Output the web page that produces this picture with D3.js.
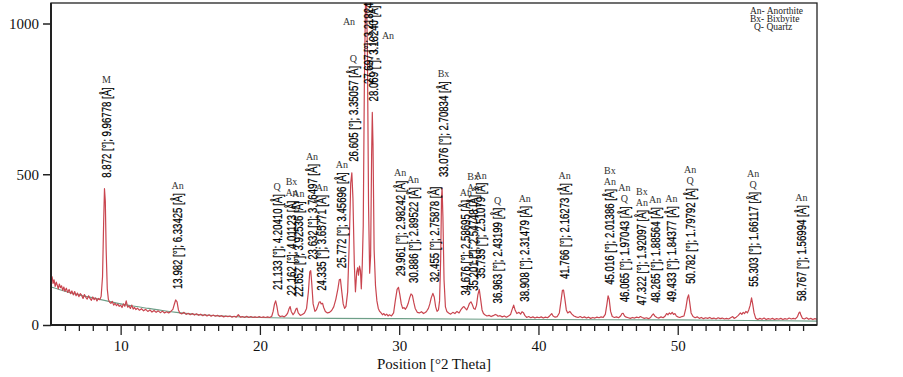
<!DOCTYPE html>
<html>
<head>
<meta charset="utf-8">
<script src="https://cdn.jsdelivr.net/npm/d3@7"></script>
<style>
body { margin: 0; background: #fff; }
svg { display: block; }
</style>
</head>
<body>
<svg id="chart" width="903" height="377"></svg>
<script>
// measured pattern, [2theta, counts]
const pattern = [
  [5.00,152],[5.08,160],[5.15,138],[5.22,150],[5.30,128],[5.38,142],[5.45,132],[5.52,120],[5.60,136],[5.68,124],
  [5.76,130],[5.84,115],[5.92,126],[6.00,112],[6.10,122],[6.20,108],[6.30,118],[6.40,104],[6.50,113],[6.60,100],
  [6.70,111],[6.80,97],[6.90,106],[7.00,94],[7.10,104],[7.20,99],[7.30,88],[7.40,101],[7.50,92],[7.60,86],
  [7.70,97],[7.80,88],[7.90,82],[8.00,93],[8.10,84],[8.20,90],[8.30,80],[8.40,88],[8.50,84],[8.60,95],
  [8.70,160],[8.78,340],[8.84,452],[8.90,410],[8.96,250],[9.04,120],[9.12,85],[9.20,76],[9.30,72],[9.40,78],
  [9.50,66],[9.60,72],[9.70,64],[9.80,69],[9.90,62],[10.00,66],[10.10,58],[10.20,70],[10.30,62],[10.40,80],
  [10.50,59],[10.60,63],[10.70,55],[10.80,66],[10.90,53],[11.00,58],[11.10,51],[11.20,56],[11.35,49],[11.50,54],
  [11.65,47],[11.80,52],[11.95,45],[12.10,50],[12.25,43],[12.40,48],[12.55,42],[12.70,47],[12.85,41],[13.00,46],
  [13.15,40],[13.30,44],[13.45,40],[13.60,45],[13.75,52],[13.85,68],[13.95,83],[14.05,77],[14.15,50],[14.25,40],
  [14.40,37],[14.55,42],[14.70,35],[14.85,39],[15.00,34],[15.15,38],[15.30,33],[15.45,37],[15.60,32],[15.75,36],
  [15.90,31],[16.05,35],[16.20,30],[16.35,34],[16.50,29],[16.65,33],[16.80,29],[16.95,32],[17.10,28],[17.25,31],
  [17.40,27],[17.55,30],[17.70,28],[17.85,30],[18.00,26],[18.15,29],[18.30,26],[18.45,34],[18.60,26],[18.75,28],
  [18.90,25],[19.05,29],[19.20,25],[19.35,28],[19.50,25],[19.65,27],[19.80,25],[19.95,28],[20.10,25],[20.25,27],
  [20.40,25],[20.55,27],[20.70,25],[20.85,29],[20.95,45],[21.05,70],[21.13,80],[21.22,62],[21.32,34],[21.45,28],
  [21.60,30],[21.75,27],[21.90,33],[22.00,40],[22.10,55],[22.17,61],[22.25,45],[22.38,34],[22.50,42],[22.60,54],
  [22.66,56],[22.75,40],[22.90,32],[23.05,35],[23.20,40],[23.35,55],[23.48,110],[23.58,176],[23.65,180],[23.72,140],
  [23.82,70],[23.95,45],[24.05,50],[24.15,62],[24.25,76],[24.33,77],[24.40,70],[24.50,72],[24.58,58],[24.70,45],
  [24.85,40],[25.00,42],[25.15,48],[25.30,60],[25.45,85],[25.60,120],[25.70,150],[25.78,152],[25.88,110],[25.98,70],
  [26.08,55],[26.18,62],[26.30,110],[26.42,280],[26.52,470],[26.60,505],[26.68,420],[26.78,200],[26.86,110],[26.95,175],
  [27.02,190],[27.08,165],[27.15,195],[27.22,180],[27.28,120],[27.35,200],[27.42,330],[27.50,800],[27.58,1070],[27.66,1070],
  [27.72,900],[27.80,400],[27.88,172],[27.95,230],[28.02,560],[28.07,705],[28.12,600],[28.20,250],[28.30,130],[28.40,80],
  [28.50,55],[28.60,45],[28.70,40],[28.80,34],[28.90,38],[29.00,32],[29.10,36],[29.20,30],[29.30,34],[29.45,30],
  [29.60,40],[29.72,80],[29.85,118],[29.95,125],[30.05,100],[30.15,70],[30.25,55],[30.35,58],[30.45,52],[30.55,60],
  [30.65,72],[30.75,90],[30.85,103],[30.95,98],[31.05,75],[31.15,55],[31.30,42],[31.45,40],[31.60,44],[31.75,38],
  [31.90,42],[32.00,48],[32.10,55],[32.20,70],[32.30,90],[32.42,105],[32.52,92],[32.62,60],[32.72,45],[32.82,50],
  [32.90,80],[32.98,220],[33.04,420],[33.08,454],[33.14,360],[33.22,150],[33.32,60],[33.42,45],[33.55,40],[33.70,36],
  [33.85,42],[34.00,38],[34.15,45],[34.30,40],[34.45,52],[34.55,58],[34.65,61],[34.75,55],[34.85,50],[34.95,60],
  [35.05,72],[35.15,77],[35.25,68],[35.35,55],[35.45,52],[35.55,65],[35.65,100],[35.75,118],[35.85,85],[35.95,50],
  [36.05,38],[36.15,34],[36.30,30],[36.45,32],[36.60,28],[36.75,31],[36.90,35],[37.00,33],[37.10,29],[37.25,31],
  [37.40,27],[37.55,30],[37.70,26],[37.85,30],[38.00,35],[38.10,50],[38.22,66],[38.32,50],[38.45,38],[38.60,42],
  [38.72,36],[38.82,44],[38.92,41],[39.02,32],[39.15,25],[39.30,28],[39.45,24],[39.60,27],[39.75,23],[39.90,26],
  [40.05,24],[40.20,27],[40.35,23],[40.50,26],[40.65,24],[40.80,30],[40.95,38],[41.05,30],[41.20,26],[41.35,28],
  [41.50,40],[41.62,80],[41.72,115],[41.80,116],[41.90,85],[42.00,50],[42.10,40],[42.25,45],[42.40,36],[42.55,30],
  [42.70,27],[42.85,25],[43.00,28],[43.15,24],[43.30,27],[43.45,23],[43.60,26],[43.75,22],[43.90,25],[44.05,23],
  [44.20,26],[44.35,24],[44.50,27],[44.65,25],[44.80,35],[44.92,70],[45.00,97],[45.08,85],[45.18,45],[45.30,28],
  [45.45,25],[45.60,27],[45.75,24],[45.90,30],[46.00,38],[46.08,39],[46.18,30],[46.30,26],[46.45,24],[46.60,22],
  [46.75,25],[46.90,23],[47.05,26],[47.20,24],[47.32,28],[47.45,25],[47.60,22],[47.75,24],[47.90,21],[48.05,25],
  [48.15,32],[48.25,37],[48.35,30],[48.50,25],[48.65,23],[48.80,27],[48.95,24],[49.10,30],[49.20,38],[49.30,34],
  [49.40,40],[49.50,36],[49.60,42],[49.70,35],[49.80,38],[49.90,30],[50.00,27],[50.15,25],[50.30,28],[50.45,30],
  [50.58,55],[50.70,90],[50.78,100],[50.86,75],[50.96,40],[51.10,28],[51.25,24],[51.40,27],[51.55,22],[51.70,25],
  [51.85,21],[52.00,24],[52.15,22],[52.30,25],[52.45,21],[52.60,23],[52.75,20],[52.90,24],[53.05,21],[53.20,23],
  [53.35,20],[53.50,22],[53.65,20],[53.80,24],[53.95,28],[54.05,22],[54.20,26],[54.35,32],[54.50,40],[54.60,35],
  [54.70,42],[54.80,38],[54.90,45],[55.00,40],[55.10,50],[55.20,65],[55.30,90],[55.38,70],[55.48,40],[55.60,22],
  [55.75,18],[55.90,22],[56.05,19],[56.20,23],[56.35,18],[56.50,21],[56.65,19],[56.80,22],[56.95,18],[57.10,21],
  [57.25,19],[57.40,22],[57.55,18],[57.70,21],[57.85,19],[58.00,23],[58.15,20],[58.30,22],[58.45,20],[58.60,28],
  [58.70,40],[58.77,43],[58.85,32],[58.95,22],[59.10,20],[59.25,24],[59.40,19],[59.55,22],[59.70,18],[59.85,21],
  [60.00,19]
];

// fitted background
const bgAngle  = [5, 6, 7, 8, 9, 10, 11, 12, 13, 14, 15, 16, 18, 20, 25, 30, 40, 50, 55, 60];
const bgCounts = [126, 112, 100, 90, 80, 70, 62, 55, 48, 42, 37, 33, 28, 25, 22, 21, 18, 17, 15, 13];

// identified peaks
const peakPos = [8.872, 13.982, 21.133, 22.162, 22.652, 23.632, 24.335, 25.772, 26.605, 27.697, 28.069,
  29.961, 30.886, 32.455, 33.076, 34.676, 35.201, 35.735, 36.963, 38.908, 41.766, 45.016, 46.065,
  47.322, 48.265, 49.433, 50.782, 55.303, 58.767];
const peakD = ["9.96778", "6.33425", "4.20410", "4.01123", "3.92536", "3.76497", "3.65771", "3.45696",
  "3.35057", "3.21824", "3.18240", "2.98242", "2.89522", "2.75878", "2.70834", "2.58695", "2.54748",
  "2.51079", "2.43199", "2.31479", "2.16273", "2.01386", "1.97043", "1.92097", "1.88564", "1.84377",
  "1.79792", "1.66117", "1.56994"];
const peakCounts = [452, 83, 80, 61, 56, 180, 77, 152, 505, 1070, 705, 125, 103, 105, 454, 61, 77, 118,
  35, 41, 116, 97, 39, 28, 37, 40, 100, 90, 43];
const peakPhases = [["M"], ["An"], ["Q"], ["Bx", "An"], ["An"], ["An"], ["An"], ["An"], ["Q"], ["An"], ["An"],
  ["An"], ["An"], [], ["Bx"], ["An"], ["Bx", "An"], ["An"], ["Q"], ["An"], ["An"], ["Bx", "An"], ["An", "Q"],
  ["Bx", "An"], ["An"], ["An"], ["An", "Q"], ["An", "Q"], ["An"]];

const yTicks = [0, 500, 1000];
const xMajor = [10, 20, 30, 40, 50];
const legendLines = ["An- Anorthite", "Bx- Bixbyite", "Q- Quartz"];
const xTitle = "Position [°2 Theta]";

const serif = "'Liberation Serif', 'Times New Roman', serif";
const sans = "'Liberation Sans', Arial, sans-serif";

const svg = d3.select("#chart");

const x = d3.scaleLinear().domain([5, 60]).range([51, 817]);
const y = d3.scaleLinear().domain([0, 1068]).range([325, 3]);

svg.append("defs").append("clipPath").attr("id", "plot")
  .append("rect").attr("x", 51).attr("y", 3).attr("width", 766).attr("height", 322);

// background curve
svg.append("path")
  .datum(d3.zip(bgAngle, bgCounts))
  .attr("clip-path", "url(#plot)")
  .attr("fill", "none")
  .attr("stroke", "#6e9f88")
  .attr("stroke-width", 1.1)
  .attr("d", d3.line().x(d => x(d[0])).y(d => y(d[1])).curve(d3.curveMonotoneX));

// pattern
svg.append("path")
  .datum(pattern)
  .attr("clip-path", "url(#plot)")
  .attr("fill", "none")
  .attr("stroke", "#c9454f")
  .attr("stroke-width", 1.2)
  .attr("stroke-linejoin", "round")
  .attr("d", d3.line().x(d => x(d[0])).y(d => y(d[1])));

// frame
svg.append("rect")
  .attr("x", 51).attr("y", 3).attr("width", 766).attr("height", 322)
  .attr("fill", "none").attr("stroke", "#222").attr("stroke-width", 1.3);
svg.append("line").attr("x1", 51).attr("x2", 51).attr("y1", 3).attr("y2", 326)
  .attr("stroke", "#222").attr("stroke-width", 2);
svg.append("line").attr("x1", 50).attr("x2", 817).attr("y1", 325).attr("y2", 325)
  .attr("stroke", "#222").attr("stroke-width", 2);

// axes
const yAxis = svg.append("g")
  .attr("transform", "translate(51,0)")
  .call(d3.axisLeft(y).tickValues(yTicks).tickSize(8).tickPadding(4).tickFormat(d3.format("d")));
yAxis.select(".domain").remove();
yAxis.selectAll("line").attr("stroke", "#222").attr("stroke-width", 1.5);
yAxis.selectAll("text").attr("font-family", serif).attr("font-size", 15).attr("fill", "#111");

const xAxis = svg.append("g")
  .attr("transform", "translate(0,325)")
  .call(d3.axisBottom(x).tickValues(d3.range(6, 60)).tickSize(6).tickPadding(9)
    .tickFormat(d => xMajor.includes(d) ? d : ""));
xAxis.select(".domain").remove();
xAxis.selectAll("line").attr("stroke", "#222").attr("stroke-width", 1.3);
xAxis.selectAll(".tick").filter(d => xMajor.includes(d)).select("line").attr("y2", 10);
xAxis.selectAll("text").attr("font-family", serif).attr("font-size", 15).attr("fill", "#111");

svg.append("text")
  .attr("x", 434).attr("y", 369)
  .attr("text-anchor", "middle")
  .attr("font-family", serif).attr("font-size", 15).attr("fill", "#111")
  .text(xTitle);

// legend
svg.append("g").selectAll("text")
  .data(legendLines)
  .join("text")
  .attr("x", (d, i) => i === 2 ? 754 : 750)
  .attr("y", (d, i) => 14 + i * 8.2)
  .attr("font-family", serif).attr("font-size", 9.5).attr("fill", "#222")
  .text(d => d);

// peak labels
const phaseAt = { 27.697: [349, 25], 28.069: [388, 39] };
const labels = svg.append("g");
peakPos.forEach((p, i) => {
  const px = x(p) + 1.5;
  const bottom = Math.max(y(peakCounts[i]) - 11, 84);
  const t = labels.append("text")
    .attr("transform", `translate(${px},${bottom}) rotate(-90)`)
    .attr("dy", "0.35em")
    .attr("font-family", sans).attr("font-size", 13).attr("fill", "#000")
    .attr("stroke", "#000").attr("stroke-width", 0.25)
    .text(`${p.toFixed(3)} [°]; ${peakD[i]} [Å]`);
  const len = t.node().getComputedTextLength() * 0.74;
  t.attr("textLength", len).attr("lengthAdjust", "spacingAndGlyphs");
  const top = bottom - len;
  const ph = peakPhases[i].slice().reverse();
  ph.forEach((s, k) => {
    const pos = phaseAt[p] || [px, top - 4 - 11 * k];
    labels.append("text")
      .attr("x", pos[0]).attr("y", pos[1])
      .attr("text-anchor", "middle")
      .attr("font-family", serif).attr("font-size", 10).attr("fill", "#333")
      .text(s);
  });
});
</script>
</body>
</html>
